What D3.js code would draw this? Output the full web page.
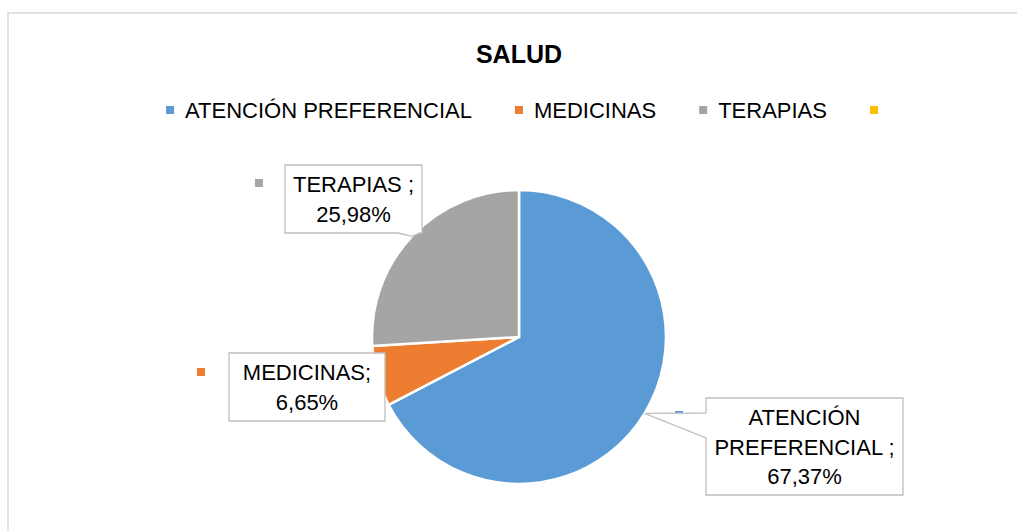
<!DOCTYPE html>
<html><head><meta charset="utf-8">
<script src="https://cdn.jsdelivr.net/npm/d3@7"></script>
<style>html,body{margin:0;padding:0;background:#fff;}svg{display:block;}</style>
</head><body>
<script>
// ---- data ----
const title = "SALUD";
const categories = ["ATENCIÓN PREFERENCIAL", "MEDICINAS", "TERAPIAS", ""];
const values = [67.37, 6.65, 25.98, 0];
const colors = ["#5b9bd5", "#ed7d31", "#a5a5a5", "#ffc000"];
const labelLines = [["ATENCIÓN", "PREFERENCIAL ;", "67,37%"], ["MEDICINAS;", "6,65%"], ["TERAPIAS ;", "25,98%"], []];

// ---- layout ----
const W = 1017, H = 531;
const cx = 519, cy = 337, R = 147;
const font = "'Liberation Sans', Arial, sans-serif";
const fs = 22;
const boxes = [
  {x: 706, y: 398, w: 197, h: 97, side: "left", base: [413, 438], key: [675, 411]},
  {x: 229, y: 353, w: 156, h: 68, side: null, key: [197, 368]},
  {x: 285, y: 165, w: 137, h: 68, side: "bottom", base: [398, 420], key: [255, 179]}
];

const svg = d3.select("body").append("svg").attr("width", W).attr("height", H);
svg.append("rect").attr("x", 8).attr("y", 13).attr("width", W + 20).attr("height", H + 20)
  .attr("fill", "#fff").attr("stroke", "#d9d9d9").attr("stroke-width", 1.5);

svg.append("text").attr("x", cx).attr("y", 63).attr("text-anchor", "middle")
  .attr("font-family", font).attr("font-weight", "bold").attr("font-size", 25).attr("fill", "#000").text(title);

// legend
const leg = svg.append("g");
let lx = 0;
const gap = 43;
categories.forEach((c, i) => {
  const g = leg.append("g");
  g.append("rect").attr("x", 0).attr("y", -12).attr("width", 8).attr("height", 8).attr("fill", colors[i]);
  const t = g.append("text").attr("x", 19).attr("y", 0).attr("font-family", font).attr("font-size", fs).attr("fill", "#000").text(c);
  const w = c ? 19 + t.node().getComputedTextLength() : 8;
  g.attr("transform", `translate(${lx},118)`);
  lx += w + gap;
});
const legW = lx - gap;
leg.attr("transform", `translate(${cx + 3 - legW / 2},0)`);

// pie
const pie = d3.pie().sort(null).value(d => d)(values);
const arc = d3.arc().innerRadius(0).outerRadius(R);
const edge = d3.arc().innerRadius(R).outerRadius(R);
const pg = svg.append("g").attr("transform", `translate(${cx},${cy})`);
pg.selectAll("path").data(pie.filter(d => d.value > 0)).join("path")
  .attr("d", arc).attr("fill", d => colors[d.index]).attr("stroke", "#fff").attr("stroke-width", 2.5);

// data labels
boxes.forEach((b, i) => {
  const k = b.key;
  svg.append("rect").attr("x", k[0]).attr("y", k[1]).attr("width", 8).attr("height", 8).attr("fill", colors[i]);
});
boxes.forEach((b, i) => {
  const c = edge.centroid(pie[i]);
  const tx = cx + c[0], ty = cy + c[1];
  let pts;
  const x0 = b.x, y0 = b.y, x1 = b.x + b.w, y1 = b.y + b.h;
  if (b.side === "left") {
    pts = [[x0, y0], [x1, y0], [x1, y1], [x0, y1], [x0, b.base[1]], [tx, ty], [x0, b.base[0]]];
  } else if (b.side === "bottom") {
    pts = [[x0, y0], [x1, y0], [x1, y1], [b.base[1], y1], [tx, ty], [b.base[0], y1], [x0, y1]];
  } else {
    pts = [[x0, y0], [x1, y0], [x1, y1], [x0, y1]];
  }
  svg.append("path").attr("d", d3.line()(pts) + "Z").attr("fill", "#fff")
    .attr("stroke", "#bfbfbf").attr("stroke-width", 1.3);
  const lines = labelLines[i];
  const mid = b.y + b.h / 2;
  const lh = 29.5;
  svg.append("text").attr("text-anchor", "middle").attr("font-family", font).attr("font-size", fs).attr("fill", "#000")
    .selectAll("tspan").data(lines).join("tspan")
    .attr("x", b.x + b.w / 2)
    .attr("y", (d, j) => mid + (j - (lines.length - 1) / 2) * lh + 8)
    .text(d => d);
});
</script>
</body></html>
